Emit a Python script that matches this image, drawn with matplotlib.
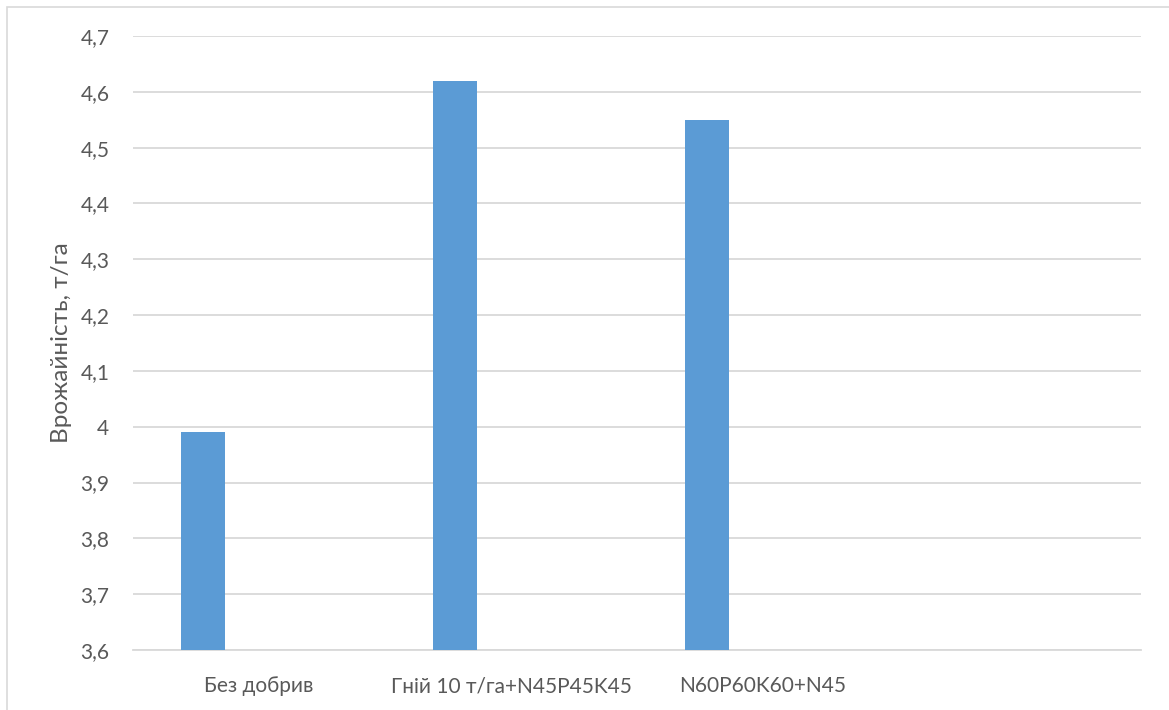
import numpy as np
import matplotlib
matplotlib.use("Agg")
import matplotlib.pyplot as plt
from matplotlib.patches import Rectangle

categories = ["Без добрив", "Гній 10 т/га+N45P45K45", "N60P60K60+N45", ""]
yields = [3.99, 4.62, 4.55, np.nan]
y_ticks = [3.6, 3.7, 3.8, 3.9, 4.0, 4.1, 4.2, 4.3, 4.4, 4.5, 4.6, 4.7]
y_label = "Врожайність, т/га"

plt.rcParams["font.family"] = ["Lato", "DejaVu Sans"]
text_color = "#595959"
grid_color = "#d9d9d9"

W, H = 1169, 710
fig = plt.figure(figsize=(W / 100, H / 100), dpi=100)
ax = fig.add_axes([133 / W, 1 - 650 / H, (1141 - 133) / W, (650 - 36) / H])

# chart area border (partly cropped in the original)
fig.patches.append(Rectangle((7 / W, -0.1), 1.2, 1 - 7 / H + 0.1,
                             transform=fig.transFigure, fill=False,
                             edgecolor=grid_color, linewidth=1.2))

x = np.arange(len(categories))
ax.bar(x - 0.222, yields, width=0.175, color="#5B9BD5", zorder=3)

ax.set_xlim(-0.5, len(categories) - 0.5)
ax.set_ylim(3.6, 4.7)
ax.set_yticks(y_ticks)
ax.set_yticklabels([f"{v:g}".replace(".", ",") for v in y_ticks])
ax.set_xticks(x)
ax.set_xticklabels(categories)

ax.grid(axis="y", color=grid_color, linewidth=1.3, zorder=0)
for s in ["top", "right", "left"]:
    ax.spines[s].set_visible(False)
ax.spines["bottom"].set_color(grid_color)
ax.spines["bottom"].set_linewidth(1.3)
ax.tick_params(axis="both", length=0, colors=text_color, labelsize=15)
ax.tick_params(axis="y", pad=17)
ax.tick_params(axis="x", pad=19)

ax.set_ylabel(y_label, color=text_color, fontsize=17.5, labelpad=6)

fig.savefig("out.png", dpi=100)
